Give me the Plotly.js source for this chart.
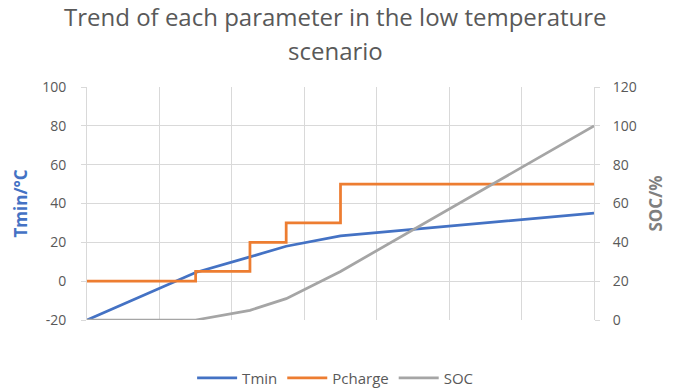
<!DOCTYPE html>
<html>
<head>
<meta charset="utf-8">
<script src="https://cdn.plot.ly/plotly-3.0.1.min.js"></script>
<style>html,body{margin:0;padding:0;background:#fff;}#chart{width:677px;height:390px;}</style>
</head>
<body>
<div id="chart"></div>
<script>
// x positions (time units, gridline every 10)
const xPoints = [0, 15, 22.5, 27.5, 35, 70];
const tmin = [-20, 4.5, 12.5, 18, 23.3, 35];
const pcharge = [0, 5, 20, 30, 50, 50];
const soc = [0, 0, 5, 11, 25, 100];
const seriesNames = ['Tmin', 'Pcharge', 'SOC'];
const leftTicks = [-20, 0, 20, 40, 60, 80, 100];
const leftTickText = ['-20', '0', '20', '40', '60', '80', '100'];
const rightTicks = [0, 20, 40, 60, 80, 100, 120];
const titleLines = ['Trend of each parameter in the low temperature', 'scenario'];

const font = '"Open Sans", "Segoe UI", sans-serif';
const grid = '#D9D9D9';
const tickColor = '#595959';

const traces = [
  {x: xPoints, y: tmin, name: seriesNames[0], type: 'scatter', mode: 'lines',
   line: {color: '#4472C4', width: 2.75}, yaxis: 'y'},
  {x: xPoints, y: pcharge, name: seriesNames[1], type: 'scatter', mode: 'lines',
   line: {color: '#ED7D31', width: 2.75, shape: 'hv'}, yaxis: 'y'},
  {x: xPoints, y: soc, name: seriesNames[2], type: 'scatter', mode: 'lines',
   line: {color: '#A5A5A5', width: 2.75}, yaxis: 'y2'}
];

const layout = {
  width: 677, height: 390,
  margin: {l: 87, r: 83, t: 87, b: 70},
  paper_bgcolor: '#fff', plot_bgcolor: '#fff',
  font: {family: font, color: tickColor, size: 13},
  annotations: [
    {text: titleLines[0], xref: 'paper', yref: 'paper', x: 0.49, y: 1 + (87 - 17) / 233,
     xanchor: 'center', yanchor: 'middle', showarrow: false,
     font: {size: 24, color: '#595959', family: font}},
    {text: titleLines[1], xref: 'paper', yref: 'paper', x: 0.49, y: 1 + (87 - 50) / 233,
     xanchor: 'center', yanchor: 'middle', showarrow: false,
     font: {size: 24, color: '#595959', family: font}}
  ],
  showlegend: true,
  legend: {orientation: 'h', x: 0.495, xanchor: 'center', xref: 'container',
           yref: 'container', y: 12 / 390, yanchor: 'middle',
           font: {size: 15, color: tickColor}, traceorder: 'normal', itemwidth: 40},
  xaxis: {range: [0, 70], dtick: 10, tick0: 0, showticklabels: false,
          showgrid: true, gridcolor: grid, gridwidth: 1, zeroline: false,
          showline: false, ticks: ''},
  yaxis: {range: [-20, 100], tickvals: leftTicks, ticktext: leftTickText,
          showgrid: true, gridcolor: grid,
          zeroline: false, showline: true, linecolor: grid, ticks: 'outside',
          ticklen: 5, tickcolor: grid, ticklabelstandoff: 12,
          tickfont: {size: 14, color: tickColor},
          title: {text: '<b>Tmin/°C</b>', font: {size: 17, color: '#4472C4'}, standoff: 10}},
  yaxis2: {range: [0, 120], tickvals: rightTicks, overlaying: 'y', side: 'right',
           showgrid: false, zeroline: false, showline: true, linecolor: grid,
           ticks: 'outside', ticklen: 5, tickcolor: grid, ticklabelstandoff: 10,
           tickfont: {size: 14, color: tickColor},
           title: {text: '<b>SOC/%</b>', font: {size: 17, color: '#7F7F7F'}, standoff: 14}}
};

Plotly.newPlot('chart', traces, layout, {displayModeBar: false, staticPlot: true});
</script>
</body>
</html>
